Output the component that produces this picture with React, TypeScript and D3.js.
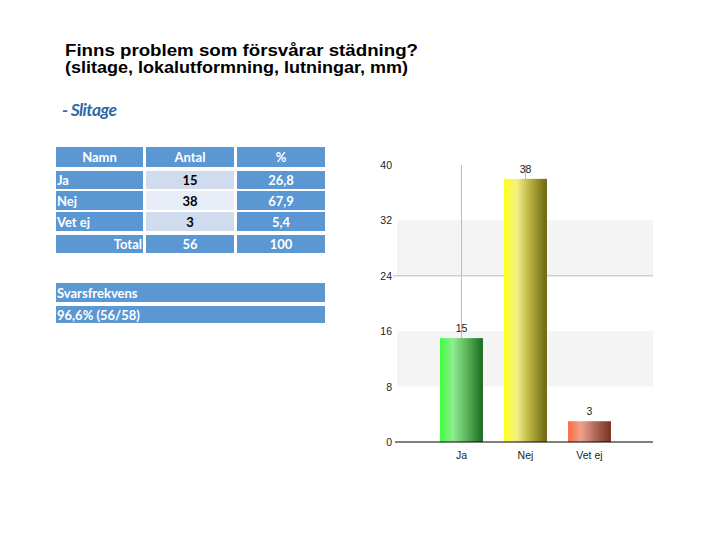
import React from 'react';
import * as d3 from 'd3';

const categories = ['Ja', 'Nej', 'Vet ej'];
const counts = [15, 38, 3];
const percents = ['26,8', '67,9', '5,4'];
const total = 56;
const totalPct = '100';
const yTicks = [0, 8, 16, 24, 32, 40];
const responseRate = '96,6% (56/58)';

const gradients = [
  ['#3cff3c', '#90ec90', '#5cb45c', '#1a6a20'],
  ['#ffff18', '#f2f086', '#b6ae3e', '#6a6610'],
  ['#ff6a40', '#eca48c', '#b46a58', '#763222'],
];

const BLUE = '#5b97d3';
const tableFont = 'Lato, "Open Sans", sans-serif';
const chartFont = '"Liberation Sans", Arial, sans-serif';

const App: React.FC = () => {
  const y = d3.scaleLinear().domain([0, 40]).range([442, 165]);
  const x = d3.scaleBand<string>().domain(categories).range([429.5, 621.5]).paddingInner(0.33).paddingOuter(0.165);
  const axisLeft = 395;
  const axisRight = 653;

  const cols = [
    { x0: 56, x1: 143 },
    { x0: 146, x1: 234 },
    { x0: 237, x1: 325 },
  ];
  const rows = [
    { y0: 147, y1: 167 },
    { y0: 171, y1: 189 },
    { y0: 191, y1: 210 },
    { y0: 212, y1: 231 },
    { y0: 235, y1: 253 },
  ];
  const antalBg = ['#d0dbee', '#e8edf7', '#d0dbee'];

  return (
    <svg width={720} height={540} style={{ position: 'absolute', left: 0, top: 0 }}>
      <defs>
        {gradients.map((g, i) => (
          <linearGradient key={i} id={`grad${i}`} x1="0" x2="1" y1="0" y2="0">
            <stop offset="0" stopColor={g[0]} />
            <stop offset="0.3" stopColor={g[1]} />
            <stop offset="0.62" stopColor={g[2]} />
            <stop offset="1" stopColor={g[3]} />
          </linearGradient>
        ))}
      </defs>
      <rect width={720} height={540} fill="#fff" />

      {/* title */}
      <g fontFamily={chartFont} fontWeight="bold" fontSize={16} fill="#000">
        <text x={65} y={56} textLength={353} lengthAdjust="spacingAndGlyphs">Finns problem som försvårar städning?</text>
        <text x={65} y={73} textLength={343} lengthAdjust="spacingAndGlyphs">(slitage, lokalutformning, lutningar, mm)</text>
      </g>
      <text x={62} y={116} fontFamily={tableFont} fontStyle="italic" fontWeight="bold" fontSize={17.5} fill="#2f6aa6" letterSpacing={-0.6}>- Slitage</text>

      {/* table */}
      <g fontFamily={tableFont} fontSize={13} fontWeight="bold">
        {['Namn', 'Antal', '%'].map((h, i) => (
          <g key={h}>
            <rect x={cols[i].x0} y={rows[0].y0} width={cols[i].x1 - cols[i].x0} height={rows[0].y1 - rows[0].y0} fill={BLUE} />
            <text x={(cols[i].x0 + cols[i].x1) / 2} y={rows[0].y1 - 5} textAnchor="middle" fill="#fff">{h}</text>
          </g>
        ))}
        {categories.map((c, i) => {
          const r = rows[i + 1];
          const h = r.y1 - r.y0;
          return (
            <g key={c}>
              <rect x={cols[0].x0} y={r.y0} width={cols[0].x1 - cols[0].x0} height={h} fill={BLUE} />
              <text x={cols[0].x0 + 1} y={r.y1 - 4} fill="#fff">{c}</text>
              <rect x={cols[1].x0} y={r.y0} width={cols[1].x1 - cols[1].x0} height={h} fill={antalBg[i]} />
              <text x={(cols[1].x0 + cols[1].x1) / 2} y={r.y1 - 4} textAnchor="middle" fill="#000">{counts[i]}</text>
              <rect x={cols[2].x0} y={r.y0} width={cols[2].x1 - cols[2].x0} height={h} fill={BLUE} />
              <text x={(cols[2].x0 + cols[2].x1) / 2} y={r.y1 - 4} textAnchor="middle" fill="#fff">{percents[i]}</text>
            </g>
          );
        })}
        {(() => {
          const r = rows[4];
          const h = r.y1 - r.y0;
          return (
            <g>
              {cols.map((c, i) => (
                <rect key={i} x={c.x0} y={r.y0} width={c.x1 - c.x0} height={h} fill={BLUE} />
              ))}
              <text x={cols[0].x1 - 1} y={r.y1 - 4} textAnchor="end" fill="#fff">Total</text>
              <text x={(cols[1].x0 + cols[1].x1) / 2} y={r.y1 - 4} textAnchor="middle" fill="#fff">{total}</text>
              <text x={(cols[2].x0 + cols[2].x1) / 2} y={r.y1 - 4} textAnchor="middle" fill="#fff">{totalPct}</text>
            </g>
          );
        })()}
        <rect x={56} y={283} width={269} height={19} fill={BLUE} />
        <text x={57} y={298} fill="#fff">Svarsfrekvens</text>
        <rect x={56} y={306} width={269} height={17} fill={BLUE} />
        <text x={57} y={320} fill="#fff">{responseRate}</text>
      </g>

      {/* chart */}
      <g fontFamily={chartFont} fontSize={11} fill="#222">
        {[[24, 32], [8, 16]].map(([a, b]) => (
          <rect key={a} x={axisLeft + 2} y={y(b)} width={axisRight - axisLeft - 2} height={y(a) - y(b)} fill="#f4f4f4" />
        ))}
        <line x1={axisLeft - 2} x2={axisRight} y1={y(24)} y2={y(24)} stroke="#bdbdbd" />
        {categories.slice(0, 2).map(c => (
          <line key={c} x1={x(c)! + x.bandwidth() / 2} x2={x(c)! + x.bandwidth() / 2} y1={y(40)} y2={y(0)} stroke="#bdbdbd" />
        ))}
        {yTicks.map(t => (
          <text key={t} x={axisLeft - 3} y={y(t) + 4} textAnchor="end" fontSize={10.5}>{t}</text>
        ))}
        {categories.map((c, i) => (
          <g key={c}>
            <rect x={x(c)} y={y(counts[i])} width={x.bandwidth()} height={y(0) - y(counts[i])} fill={`url(#grad${i})`} />
            <text x={x(c)! + x.bandwidth() / 2} y={y(counts[i]) - 6} textAnchor="middle" fontSize={10.5}>{counts[i]}</text>
            <text x={x(c)! + x.bandwidth() / 2} y={y(0) + 17} textAnchor="middle" fontSize={10.5}>{c}</text>
          </g>
        ))}
        <line x1={axisLeft} x2={axisRight} y1={y(0)} y2={y(0)} stroke="#000" strokeWidth={1.2} />
      </g>
    </svg>
  );
};

export default App;
